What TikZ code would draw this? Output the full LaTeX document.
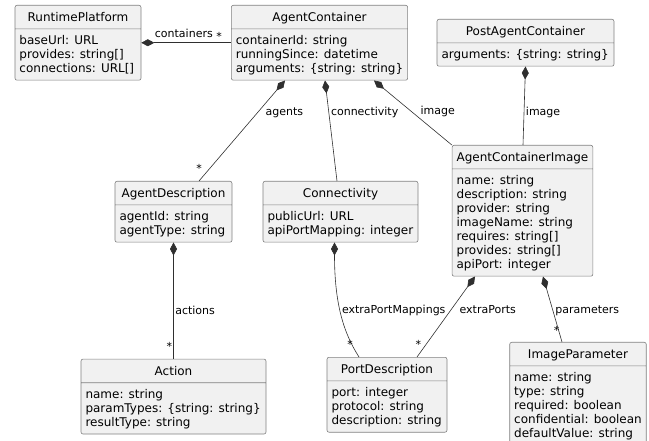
\documentclass[tikz,border=0pt]{standalone}
\usepackage{fontspec}
\setmainfont{DejaVu Sans}
\usetikzlibrary{arrows.meta, positioning, shapes.multipart}

\definecolor{umlfill}{HTML}{F1F1F1}
\definecolor{umlline}{HTML}{181818}

\newcommand{\umltitle}[1]{\rule[-4pt]{0pt}{17pt}#1}
\newcommand{\umlattrs}[1]{\begin{tabular}{@{}l@{}}\rule{0pt}{12.5pt}#1\end{tabular}}

\begin{document}
\begin{tikzpicture}[
    x=1pt, y=-1pt,
    umlclass/.style={rectangle split, rectangle split parts=2,
                     rectangle split part align={center,left},
                     draw=umlline!55, fill=umlfill, line width=0.6pt,
                     rounded corners=2pt, inner xsep=4.5pt, inner ysep=3pt,
                     anchor=north, font=\fontsize{12}{14}\selectfont},
    comp/.style={{Diamond[length=13pt,width=7pt]}-, draw=umlline!90,
                 line width=0.6pt},
    role/.style={font=\fontsize{11}{13}\selectfont, inner sep=0pt,
                 anchor=base west},
    mult/.style={font=\fontsize{11}{13}\selectfont, inner sep=0pt,
                 anchor=base}
  ]
  \path[use as bounding box, clip] (0,0) rectangle (649,441);

  % classes
  \node[umlclass, minimum width=126pt] (rp) at (78,5)
    {\umltitle{RuntimePlatform}\nodepart{two}\umlattrs{baseUrl: URL\\
     provides: string[]\\ connections: URL[]}};
  \node[umlclass, minimum width=175pt] (ac) at (319.5,5)
    {\umltitle{AgentContainer}\nodepart{two}\umlattrs{containerId: string\\
     runningSince: datetime\\ arguments: \{string: string\}}};
  \node[umlclass, minimum width=177pt] (pac) at (525.5,19)
    {\umltitle{PostAgentContainer}\nodepart{two}\umlattrs{arguments:
     \{string: string\}}};
  \node[umlclass, minimum width=117pt] (ad) at (173.5,181)
    {\umltitle{AgentDescription}\nodepart{two}\umlattrs{agentId: string\\
     agentType: string}};
  \node[umlclass, minimum width=155pt] (cn) at (340.5,181)
    {\umltitle{Connectivity}\nodepart{two}\umlattrs{publicUrl: URL\\
     apiPortMapping: integer}};
  \node[umlclass, minimum width=137pt] (aci) at (522.5,145)
    {\umltitle{AgentContainerImage}\nodepart{two}\umlattrs{name: string\\
     description: string\\ provider: string\\ imageName: string\\
     requires: string[]\\ provides: string[]\\ apiPort: integer}};
  \node[umlclass, minimum width=185pt, below=116.3pt of ad] (act)
    {\umltitle{Action}\nodepart{two}\umlattrs{name: string\\
     paramTypes: \{string: string\}\\ resultType: string}};
  \node[umlclass, minimum width=120pt] (pd) at (387,357)
    {\umltitle{PortDescription}\nodepart{two}\umlattrs{port: integer\\
     protocol: string\\ description: string}};
  \node[umlclass, minimum width=136pt] (ip) at (578,342)
    {\umltitle{ImageParameter}\nodepart{two}\umlattrs{name: string\\
     type: string\\ required: boolean\\ confidential: boolean\\
     defaultValue: string}};

  % compositions
  \draw[comp] (rp.east) -- (ac.west)
    node[role, pos=0.8, anchor=base east, yshift=5pt] {containers}
    node[mult, at end, xshift=-12pt, yshift=2pt] {*};
  \draw[comp] ([xshift=-34.5pt]ac.south) -- ([xshift=25.5pt]ad.north)
    node[role, pos=0.35, xshift=10.5pt] {agents}
    node[mult, at end, yshift=8.5pt] {*};
  \draw[comp] ([xshift=5.5pt]ac.south) -- ([xshift=-3.5pt]cn.north)
    node[role, pos=0.35, xshift=1.5pt] {connectivity};
  \draw[comp] ([xshift=54.5pt]ac.south) -- (aci.north west)
    node[role, pos=0.53, xshift=5pt] {image};
  \draw[comp] (pac.south) -- ([xshift=0.5pt]aci.north)
    node[role, pos=0.62, xshift=1.7pt] {image};
  \draw[comp] (ad.south) -- (act.north)
    node[role, pos=0.62, xshift=1.5pt] {actions}
    node[mult, at end, xshift=-4.2pt, yshift=8.8pt] {*};
  \draw[comp] ([xshift=-6pt]cn.south)
    .. controls +(0,60) and +(-16,-25) .. ([xshift=-28pt]pd.north)
    node[role, pos=0.5, xshift=1pt, yshift=-1pt] {extraPortMappings}
    node[mult, at end, xshift=-9pt, yshift=8.5pt] {*};
  \draw[comp] ([xshift=-47.5pt]aci.south) -- ([xshift=30pt]pd.north)
    node[role, pos=0.465, xshift=11.3pt] {extraPorts}
    node[mult, at end, xshift=1.3pt, yshift=8.8pt] {*};
  \draw[comp] ([xshift=20.5pt]aci.south) -- ([xshift=-16pt]ip.north)
    node[role, pos=0.57, xshift=1.2pt] {parameters}
    node[mult, at end, xshift=-5.3pt, yshift=7.8pt] {*};
\end{tikzpicture}
\end{document}
